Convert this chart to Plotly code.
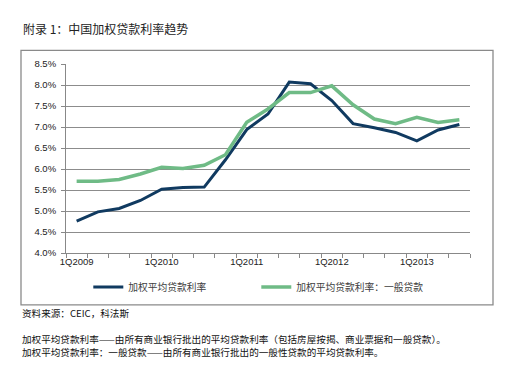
import plotly.graph_objects as go

categories = ["1Q2009", "2Q2009", "3Q2009", "4Q2009",
              "1Q2010", "2Q2010", "3Q2010", "4Q2010",
              "1Q2011", "2Q2011", "3Q2011", "4Q2011",
              "1Q2012", "2Q2012", "3Q2012", "4Q2012",
              "1Q2013", "2Q2013", "3Q2013"]
weighted_rate = [4.76, 4.98, 5.06, 5.25, 5.52, 5.56, 5.57, 6.22, 6.94, 7.31,
                 8.07, 8.03, 7.63, 7.08, 6.98, 6.87, 6.67, 6.93, 7.06]
general_rate = [5.71, 5.71, 5.75, 5.88, 6.04, 6.01, 6.09, 6.34, 7.11, 7.43,
                7.82, 7.82, 7.98, 7.53, 7.19, 7.08, 7.23, 7.11, 7.17]
tick_labels = [c if c.startswith("1Q") else "" for c in categories]
series_names = ["加权平均贷款利率", "加权平均贷款利率：一般贷款"]

title_text = "附录 1：中国加权贷款利率趋势"
source_text = "资料来源：CEIC，科法斯"
note_lines = ["加权平均贷款利率——由所有商业银行批出的平均贷款利率（包括房屋按揭、商业票据和一般贷款）。",
              "加权平均贷款利率：一般贷款——由所有商业银行批出的一般性贷款的平均贷款利率。"]

W, H = 511, 367
L, R, T, B = 65.7, 469.7, 64.3, 253.0
pw, ph = R - L, B - T

def px(x):
    return (x - L) / pw

def py(y):
    return (B - y) / ph

fig = go.Figure()
fig.add_trace(go.Scatter(x=categories, y=weighted_rate, mode="lines", name=series_names[0],
                         line=dict(color="#103a60", width=3), legend="legend"))
fig.add_trace(go.Scatter(x=categories, y=general_rate, mode="lines", name=series_names[1],
                         line=dict(color="#6fbb86", width=3.5), legend="legend2"))

cjk = "Noto Sans CJK SC"
legend_common = dict(orientation="h", xanchor="left", yanchor="middle",
                     font=dict(family=cjk, size=9.75, color="#404040"),
                     itemwidth=30, bgcolor="rgba(0,0,0,0)", borderwidth=0)
fig.update_layout(
    width=W, height=H,
    margin=dict(l=L, r=W - R, t=T, b=H - B, pad=0, autoexpand=False),
    paper_bgcolor="white", plot_bgcolor="white",
    showlegend=True,
    legend=dict(x=px(88), y=py(287), **legend_common),
    legend2=dict(x=px(256), y=py(287), **legend_common),
    font=dict(family="Liberation Sans", size=9.5, color="#222"),
)
fig.update_xaxes(type="category", tickmode="array", tickvals=categories, ticktext=tick_labels,
                 tickson="boundaries", ticks="outside", ticklen=4, tickcolor="#888",
                 showline=True, linecolor="#888", linewidth=1, showgrid=False,
                 tickfont=dict(family="Liberation Sans", size=9.5, color="#222"),
                 range=[-0.5, len(categories) - 0.5], tickangle=0)
fig.update_yaxes(range=[4.0, 8.5], dtick=0.5, tick0=4.0, tickformat=".1f", ticksuffix="%",
                 ticks="outside", ticklen=4, tickcolor="#888",
                 showline=True, linecolor="#888", linewidth=1,
                 showgrid=True, gridcolor="#8c8c8c", gridwidth=1, zeroline=False,
                 tickfont=dict(family="Liberation Sans", size=9.5, color="#222"),
                 ticklabelstandoff=3)

fig.add_shape(type="rect", xref="paper", yref="paper",
              x0=px(20.7), x1=px(492.7), y0=py(304.7), y1=py(50.7),
              line=dict(color="#8a8a8a", width=1.3), layer="below")

fig.add_annotation(text=title_text, xref="paper", yref="paper", x=px(21), y=py(29),
                   xanchor="left", yanchor="middle", showarrow=False,
                   font=dict(family=cjk, size=12, color="#222"))
fig.add_annotation(text=source_text, xref="paper", yref="paper", x=px(20), y=py(313),
                   xanchor="left", yanchor="middle", showarrow=False,
                   font=dict(family=cjk, size=9.6, color="#111"))
for i, line in enumerate(note_lines):
    fig.add_annotation(text=line, xref="paper", yref="paper", x=px(20), y=py(339 + 13 * i),
                       xanchor="left", yanchor="middle", showarrow=False,
                       font=dict(family=cjk, size=9.6, color="#111"))

fig.write_html("out.html", config={"displayModeBar": False},
               post_script="document.body.style.margin='0';document.body.style.padding='0';")
